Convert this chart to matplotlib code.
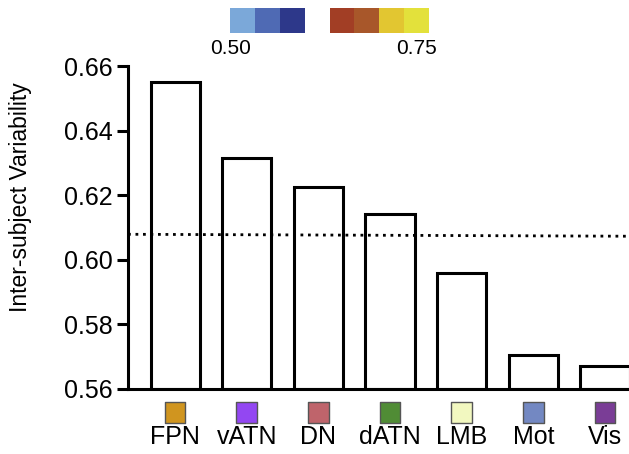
import matplotlib
matplotlib.use("Agg")
import matplotlib.pyplot as plt
import numpy as np

plt.rcParams['font.family'] = ['Liberation Sans', 'DejaVu Sans']

# networks, their variability and their colour keys
networks = ["FPN", "vATN", "DN", "dATN", "LMB", "Mot", "Vis"]
variability = [0.6550, 0.6316, 0.6226, 0.6142, 0.5959, 0.5705, 0.5670]
net_colors = ["#D0951F", "#9347F2", "#BF646B", "#508C35", "#F2F8C0", "#7388C2", "#7A3D96"]

# dotted reference line (mean), left and right end
mean_line = [0.6079, 0.6073]

# colour scale strip at the top
cool_steps = ["#7BA8D9", "#4F6AB4", "#2D388A"]
warm_steps = ["#A23E25", "#A8572A", "#E2C631", "#E3E13B"]
scale_labels = ["0.50", "0.75"]

fig = plt.figure(figsize=(6.29, 4.54), dpi=100)
ax = fig.add_axes([128 / 629, 65 / 454, 501 / 629, 323 / 454])

x = np.arange(len(networks))
ax.bar(x, np.array(variability) - 0.56, bottom=0.56, width=0.684,
       facecolor="white", edgecolor="black", linewidth=2.2, zorder=2)

ax.set_xlim(-0.656, 6.335)
ax.set_ylim(0.56, 0.66)
ax.plot(ax.get_xlim(), mean_line, color="black", lw=2.0,
        linestyle=(0, (1, 1.7)), zorder=3)

ax.set_yticks([0.56, 0.58, 0.60, 0.62, 0.64, 0.66])
ax.set_yticklabels(["0.56", "0.58", "0.60", "0.62", "0.64", "0.66"], fontsize=18)
ax.tick_params(axis="y", length=8, width=2.2, pad=3)
ax.set_xticks(x)
ax.set_xticklabels(networks, fontsize=18)
ax.tick_params(axis="x", length=0, pad=26)

for side in ["top", "right"]:
    ax.spines[side].set_visible(False)
for side in ["left", "bottom"]:
    ax.spines[side].set_linewidth(2.2)

# colour keys under the bars
ax.scatter(x, [-0.074] * len(x), s=228, marker="s", c=net_colors,
           edgecolors="#555555", linewidths=1,
           transform=ax.get_xaxis_transform(), clip_on=False)

ax.text(-0.214, 0.593, "Inter-subject Variability", rotation=90,
        ha="center", va="center", fontsize=16.5, transform=ax.transAxes)

# colour scale strip
cax = fig.add_axes([230 / 629, (454 - 33) / 454, 199 / 629, 25 / 454])
cax.bar(np.arange(3) + 0.5, 1, width=1.0, color=cool_steps)
cax.bar(np.arange(4) + 4.5, 1, width=1.0, color=warm_steps)
cax.set_xlim(0, 8)
cax.set_ylim(0, 1)
cax.axis("off")
cax.text(0.04, -0.62, scale_labels[0], ha="center", va="center", fontsize=15)
cax.text(7.5, -0.62, scale_labels[1], ha="center", va="center", fontsize=15)

fig.savefig("out.png", dpi=100)
